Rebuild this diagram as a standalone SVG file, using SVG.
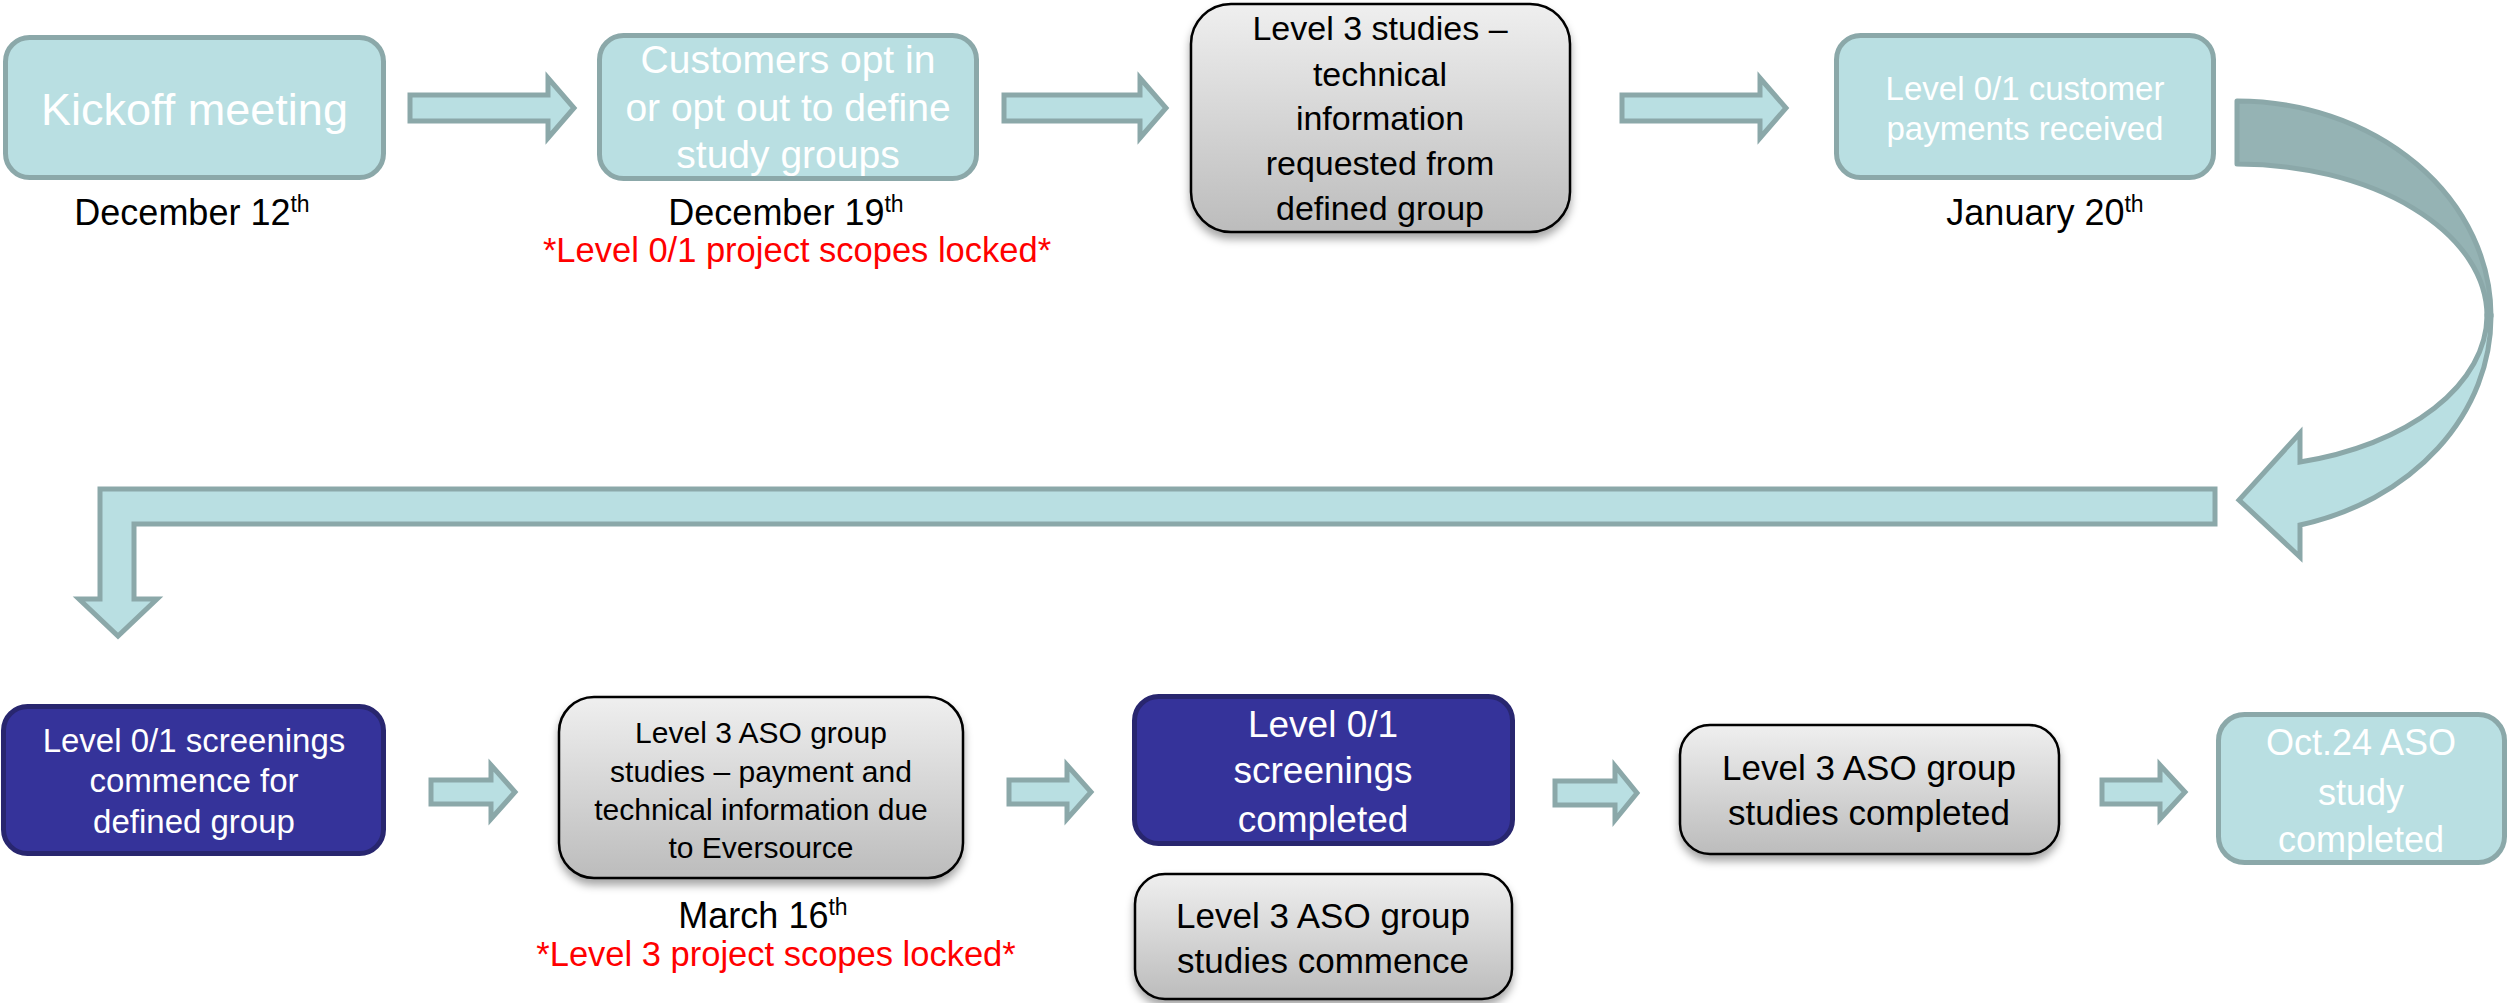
<svg xmlns="http://www.w3.org/2000/svg" width="2509" height="1003" viewBox="0 0 2509 1003">
<defs>
<linearGradient id="gg" x1="0" y1="0" x2="0" y2="1">
<stop offset="0" stop-color="#EFEFEF"/>
<stop offset="1" stop-color="#BCBCBC"/>
</linearGradient>
<filter id="sh" x="-10%" y="-10%" width="120%" height="130%">
<feDropShadow dx="0" dy="6" stdDeviation="4" flood-color="#000" flood-opacity="0.35"/>
</filter>
<style>
text{font-family:"Liberation Sans",Arial,sans-serif;text-anchor:middle}
.teal{fill:#B9DFE2;stroke:#8BA8A9;stroke-width:5;stroke-linejoin:miter}
.back{fill:#95B3B4;stroke:#8BA8A9;stroke-width:5;stroke-linejoin:round}
.gray{fill:url(#gg);stroke:#000;stroke-width:2.5;filter:url(#sh)}
.blue{fill:#35339A;stroke:#28266F;stroke-width:5}
.wt{fill:#FFFFFF}
.bk{fill:#000000}
.date{fill:#000000;font-size:36px}
.red{fill:#FF0000;font-size:34.5px}
.sup{font-size:23px}
</style>
</defs>
<rect width="2509" height="1003" fill="#FFFFFF"/>

<g id="connectors">
<path class="teal" d="M410,95 H548 V78 L574,108 L548,138 V121 H410 Z"/>
<path class="teal" d="M1004,95 H1140 V78 L1166,108 L1140,138 V121 H1004 Z"/>
<path class="teal" d="M1622,95 H1760 V78 L1786,108 L1760,138 V121 H1622 Z"/>
<path class="back" d="M2237,101 A254,215 0 0 1 2491,316 L2487,316 A250,152 0 0 0 2237,164 Z"/>
<path class="teal" d="M2300,462 A250,152 0 0 0 2487,316 L2491,316 A254,215 0 0 1 2300,525 L2300,557 L2239,500 L2300,433 Z"/>
<path class="teal" d="M2215,489 H100 V599 H79 L118,636 L157,599 H134 V524 H2215 Z"/>
<path class="teal" d="M431,780 H491 V765 L515,792 L491,819 V804 H431 Z"/>
<path class="teal" d="M1009,780 H1067 V765 L1091,792 L1067,819 V804 H1009 Z"/>
<path class="teal" d="M1555,781 H1615 V766 L1637,793 L1615,820 V805 H1555 Z"/>
<path class="teal" d="M2102,780 H2160 V765 L2185,792 L2160,819 V804 H2102 Z"/>
</g>

<g id="kickoff">
<rect class="teal" x="5.5" y="37.5" width="378" height="140" rx="24"/>
<text class="wt" x="194.5" y="125" font-size="45">Kickoff meeting</text>
</g>
<g id="optin">
<rect class="teal" x="599.5" y="35.5" width="377" height="143" rx="24"/>
<text class="wt" font-size="39"><tspan x="788" y="73">Customers opt in</tspan><tspan x="788" y="121">or opt out to define</tspan><tspan x="788" y="168">study groups</tspan></text>
</g>
<g id="level3-tech">
<rect class="gray" x="1191" y="4" width="379" height="228" rx="40"/>
<text class="bk" font-size="34"><tspan x="1380" y="40">Level 3 studies –</tspan><tspan x="1380" y="86">technical</tspan><tspan x="1380" y="130">information</tspan><tspan x="1380" y="175">requested from</tspan><tspan x="1380" y="220">defined group</tspan></text>
</g>
<g id="payments">
<rect class="teal" x="1836.5" y="35.5" width="377" height="142" rx="24"/>
<text class="wt" font-size="33"><tspan x="2025" y="100">Level 0/1 customer</tspan><tspan x="2025" y="140">payments received</tspan></text>
</g>

<g id="labels-top">
<text class="date" x="192" y="225">December 12<tspan class="sup" dy="-13">th</tspan></text>
<text class="date" x="786" y="225">December 19<tspan class="sup" dy="-13">th</tspan></text>
<text class="red" x="797" y="262">*Level 0/1 project scopes locked*</text>
<text class="date" x="2045" y="225">January 20<tspan class="sup" dy="-13">th</tspan></text>
</g>

<g id="screen-commence">
<rect class="blue" x="3.5" y="706.5" width="380" height="147" rx="24"/>
<text class="wt" font-size="33"><tspan x="194" y="752">Level 0/1 screenings</tspan><tspan x="194" y="792">commence for</tspan><tspan x="194" y="833">defined group</tspan></text>
</g>
<g id="aso-due">
<rect class="gray" x="559" y="697" width="404" height="181" rx="35"/>
<text class="bk" font-size="30"><tspan x="761" y="743">Level 3 ASO group</tspan><tspan x="761" y="782">studies – payment and</tspan><tspan x="761" y="820">technical information due</tspan><tspan x="761" y="858">to Eversource</tspan></text>
</g>
<g id="screen-completed">
<rect class="blue" x="1134.5" y="696.5" width="378" height="147" rx="24"/>
<text class="wt" font-size="37"><tspan x="1323" y="737">Level 0/1</tspan><tspan x="1323" y="783">screenings</tspan><tspan x="1323" y="832">completed</tspan></text>
</g>
<g id="aso-commence">
<rect class="gray" x="1135" y="874" width="377" height="125" rx="30"/>
<text class="bk" font-size="35"><tspan x="1323" y="928">Level 3 ASO group</tspan><tspan x="1323" y="973">studies commence</tspan></text>
</g>
<g id="aso-completed">
<rect class="gray" x="1680" y="725" width="379" height="129" rx="30"/>
<text class="bk" font-size="35"><tspan x="1869" y="780">Level 3 ASO group</tspan><tspan x="1869" y="825">studies completed</tspan></text>
</g>
<g id="oct24">
<rect class="teal" x="2218.5" y="714.5" width="286" height="148" rx="26"/>
<text class="wt" font-size="36"><tspan x="2361" y="755">Oct.24 ASO</tspan><tspan x="2361" y="805">study</tspan><tspan x="2361" y="852">completed</tspan></text>
</g>

<g id="labels-bottom">
<text class="date" x="763" y="928">March 16<tspan class="sup" dy="-13">th</tspan></text>
<text class="red" x="776" y="966">*Level 3 project scopes locked*</text>
</g>
</svg>
